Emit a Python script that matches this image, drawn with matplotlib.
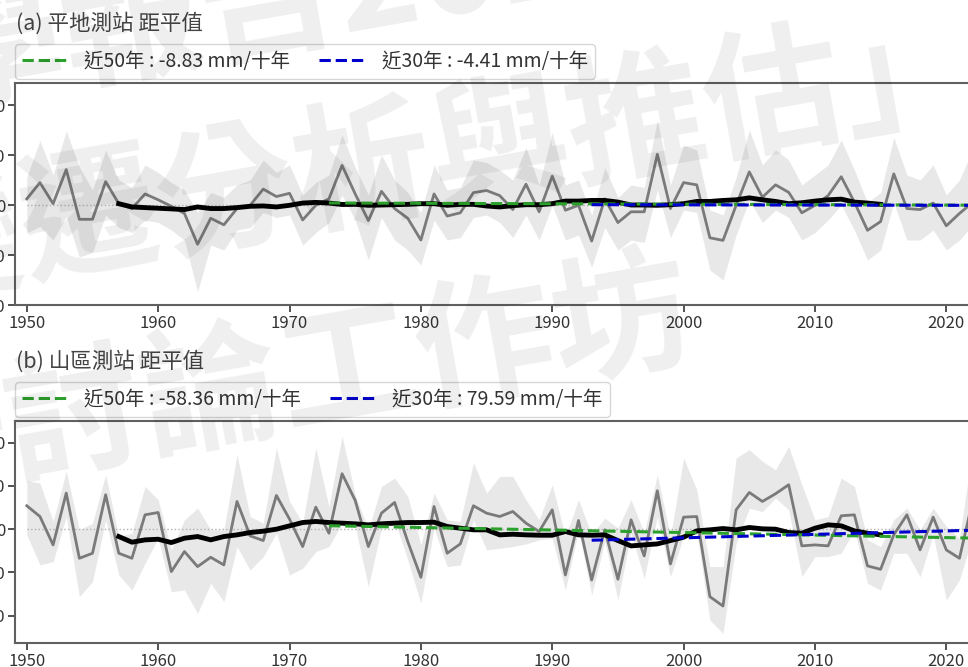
import numpy as np
import matplotlib
matplotlib.use("Agg")
import matplotlib.pyplot as plt

plt.rcParams['font.family'] = ['Noto Sans CJK TC', 'DejaVu Sans']

years = np.arange(1950, 2023)
smooth_years = np.arange(1957, 2016)

# (a) plains stations: yearly rainfall anomaly (mm)
plain_anom = [123, 448, 26, 708, -286, -286, 468, 26, -71, 221,
              104, -26, -169, -786, -266, -396, -71, -6, 318, 169,
              234, -299, -6, 123, 792, 221, -312, 273, -71, -266,
              -701, 221, -221, -156, 247, 290, 188, -91, 416, -136,
              578, -104, -6, -721, 123, -351, -136, -136, 1013, -71,
              448, 403, -656, -708, -6, 662, 156, 403, 253, -156,
              -6, 188, 565, 58, -506, -331, 623, -71, -91, 39,
              -416, -169, 50]
plain_hi = [560, 1290, 600, 1480, 760, 300, 1100, 500, 350, 800,
            650, 450, 300, -150, 250, 150, 400, 500, 900, 650,
            800, 200, 450, 600, 1400, 750, 200, 1000, 500, 250,
            -150, 800, 300, 350, 900, 850, 700, 500, 1150, 400,
            1450, 400, 500, -200, 750, 150, 400, 350, 1700, 400,
            1200, 1100, -100, -200, 550, 1500, 800, 1100, 900, 400,
            600, 800, 1300, 700, 50, 250, 1350, 600, 500, 800,
            200, 500, 1100]
plain_lo = [-560, -430, -700, -230, -1040, -950, -200, -450, -550, -300,
            -350, -500, -700, -1730, -800, -900, -500, -450, -150, -250,
            -200, -800, -550, -350, 200, -300, -1100, -250, -700, -900,
            -1200, -300, -700, -650, -250, -200, -350, -650, -200, -700,
            0, -700, -600, -1240, -450, -900, -700, -750, 300, -650,
            -100, -150, -1300, -1500, -600, 100, -350, -100, -250, -700,
            -550, -300, 0, -500, -1100, -900, 50, -700, -700, -500,
            -900, -700, -400]
plain_smooth = [26, -39, -52, -65, -78, -91, -39, -71, -71, -52,
                -26, -19, -39, -6, 39, 52, 39, 10, 13, -6,
                0, 6, 13, 26, 26, -6, 13, 13, -20, -39,
                -13, 6, 6, 26, 78, 78, 91, 91, 58, 0,
                0, -6, 6, 26, 71, 71, 91, 104, 143, 104,
                71, 26, 45, 78, 104, 117, 58, 39, 13]

# (b) mountain stations
mount_anom = [541, 293, -363, 834, -672, -556, 795, -556, -672, 332,
              386, -981, -517, -865, -649, -826, 641, -154, -263, 780,
              232, -402, 510, -93, 1282, 664, -402, 371, 618, -286,
              -1112, 525, -556, -340, 541, 370, 293, 409, 139, -54,
              448, -1058, 201, -1174, -15, -1158, 216, -618, 888, -803,
              278, 293, -1560, -1776, 448, 849, 641, 819, 1027, -386,
              -363, -386, 309, 332, -849, -927, -131, 332, -479, 278,
              -479, -672, 650]
mount_hi = [1120, 1066, 178, 1336, -15, 139, 1259, -170, -93, 988,
            680, -479, 216, 486, -15, -15, 1722, 293, 139, 1876,
            641, 139, 1876, 525, 2147, 795, -15, 988, 1181, 757,
            -363, 834, 216, 178, 1529, 834, 1220, 1220, 680, 216,
            1027, -170, 680, -131, 255, 23, 680, -93, 1259, -170,
            1645, 911, -865, -865, 1645, 1838, 1568, 1375, 1915, 1027,
            216, 293, 1181, 988, -247, -402, 216, 486, -15, 486,
            62, -208, 1838]
mount_lo = [-131, -826, -749, 293, -1560, -1212, 216, -1058, -1405, -788,
            -208, -1444, -1405, -1946, -1251, -1676, -402, -942, -633, -93,
            -1058, -903, -517, -402, 139, 62, -1328, 23, 216, -710,
            -1714, 23, -865, -826, 216, -479, -440, -402, -340, -247,
            -208, -1405, -15, -1521, -286, -1637, -93, -1135, 293, -1097,
            -170, -54, -2100, -2409, -324, 486, 409, 718, 448, -1097,
            -633, -633, -556, -15, -1251, -1405, -556, -556, -1097, -131,
            -1637, -1174, -170]
mount_smooth = [-170, -301, -247, -232, -309, -208, -170, -247, -170, -131,
                -77, -46, 0, 77, 154, 178, 154, 139, 124, 100,
                124, 139, 154, 154, 162, 62, 23, -15, -15, -131,
                -116, -131, -139, -139, -54, -131, -139, -131, -263, -386,
                -363, -340, -263, -185, -39, -15, 15, -15, 39, 8,
                0, -77, -93, 23, 100, 77, -39, -93, -131]

# trends in mm per decade (from legend), start value of each fitted line
plain_trend50, plain_trend30 = -8.83, -4.41
mount_trend50, mount_trend30 = -58.36, 79.59
plain_start50, plain_start30 = 40, 6
mount_start50, mount_start30 = 80, -255

panels = [
    ("(a) 平地測站 距平值", plain_anom, plain_hi, plain_lo, plain_smooth,
     plain_trend50, plain_trend30, plain_start50, plain_start30, (-1890, 2440)),
    ("(b) 山區測站 距平值", mount_anom, mount_hi, mount_lo, mount_smooth,
     mount_trend50, mount_trend30, mount_start50, mount_start30, (-2630, 2500)),
]

W, H = 968, 667
fig = plt.figure(figsize=(W / 100, H / 100), dpi=100)

ax_top = [83, 421]      # pixel row of each axes top
title_y = [24, 362]
legend_top = [44, 382]

for i, (title, anom, hi, lo, smooth, t50, t30, s50, s30, ylim) in enumerate(panels):
    top = ax_top[i]
    ax = fig.add_axes([15 / W, 1 - (top + 222) / H, 997 / W, 222 / H])
    ax.fill_between(years, lo, hi, color='#e8e8e8', lw=0, zorder=1)
    ax.hlines(0, years[0], years[-1], colors='#b0b0b0', linestyles=':', lw=1, zorder=2)
    ax.plot(years, anom, color='#7a7a7a', lw=2, zorder=3)
    ax.plot(smooth_years, smooth, color='black', lw=3.5, zorder=4)

    y50 = np.arange(1973, 2023)
    y30 = np.arange(1993, 2023)
    ax.plot(y50, s50 + t50 / 10 * (y50 - y50[0]), '--', color='#2ca02c', lw=2.2, zorder=5,
            label=f"近50年 : {t50:.2f} mm/十年")
    ax.plot(y30, s30 + t30 / 10 * (y30 - y30[0]), '--', color='#0000cc', lw=2.2, zorder=5,
            label=f"近30年 : {t30:.2f} mm/十年")

    ax.set_xlim(1949.1, 2025.0)
    ax.set_ylim(*ylim)
    ax.set_xticks(range(1950, 2030, 10))
    ax.set_yticks([-2000, -1000, 0, 1000, 2000])
    ax.tick_params(labelsize=12, colors='#333333', length=5, width=1.2, pad=2)
    for s in ax.spines.values():
        s.set_color('#606060')
        s.set_linewidth(1.5)

    fig.text(16 / W, 1 - title_y[i] / H, title, fontsize=15.5, color='#444444',
             va='center', ha='left')
    leg = ax.legend(loc='upper left', bbox_to_anchor=(15 / W, 1 - legend_top[i] / H),
                    bbox_transform=fig.transFigure, ncol=2, fontsize=14,
                    handlelength=2.3, handletextpad=0.9, columnspacing=1.5,
                    borderaxespad=0, borderpad=0.35, frameon=True, fancybox=True)
    leg.get_frame().set_edgecolor('#cccccc')
    for t in leg.get_texts():
        t.set_color('#333333')

# faint banner text across the figure, placed by the left end of each baseline
wm = dict(fontsize=100, weight='bold', color='black', alpha=0.065, rotation=10,
          rotation_mode='anchor', ha='left', va='baseline', zorder=10)
fig.text(-203 / W, 1 - 129 / H, "科學報告2024", **wm)
fig.text(-108 / W, 1 - 297 / H, "變遷分析與推估」", **wm)
fig.text(-122 / W, 1 - 497 / H, "研討論工作坊", **wm)

fig.savefig("out.png", dpi=100)
